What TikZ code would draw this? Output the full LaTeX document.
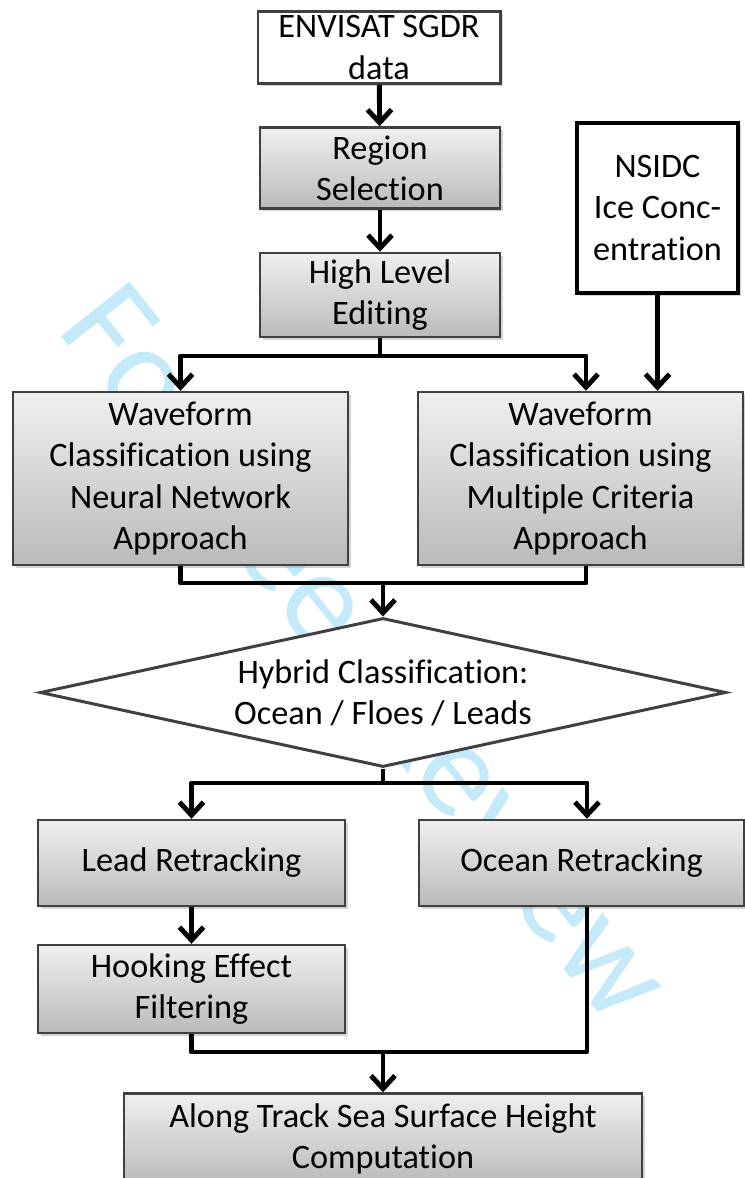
\documentclass[tikz,border=0pt]{standalone}
\usepackage{fontspec}
\setmainfont{Carlito}[Ligatures=CommonOff]
\usetikzlibrary{shapes.geometric,shadows,arrows.meta}
\definecolor{boxline}{RGB}{64,64,64}
\definecolor{wmark}{RGB}{196,234,250}
\begin{document}
\begin{tikzpicture}
			\tikzstyle{every node}=[align=center, font=\fontsize{19.5}{23.5}\selectfont, inner sep=0pt]
			\tikzstyle{graybox}=[draw=boxline, line width=1.4pt, top color=black!6, bottom color=black!27,
			      drop shadow={shadow xshift=0.05cm, shadow yshift=-0.05cm, opacity=0.35}]
			\tikzstyle{whitebox}=[draw=boxline, line width=1.7pt, fill=white,
			      drop shadow={shadow xshift=0.05cm, shadow yshift=-0.05cm, opacity=0.35}]
			\tikzstyle{conn}=[line width=2.8pt, line join=round]
			\tikzstyle{arr}=[conn, -{Straight Barb[length=2.6mm,width=4.8mm]}]
			\useasboundingbox (0,0) rectangle (14.88,-23.56);
			\node[rotate=-51.5, text=wmark, font=\fontsize{78}{78}\selectfont] (wm) at (7.4,-13.0) {For Peer Review};
			\path (7.58,-0.95) node[whitebox, minimum width=4.84cm, minimum height=1.44cm] (envisat) {ENVISAT SGDR\\data}
			      (7.60,-3.36) node[graybox, minimum width=4.80cm, minimum height=1.62cm] (region) {Region\\Selection}
			      (7.60,-5.90) node[graybox, minimum width=4.80cm, minimum height=1.68cm] (hle) {High Level\\Editing}
			      (13.15,-4.16) node[draw=black, line width=2.8pt, fill=white, minimum width=3.22cm, minimum height=3.40cm,
			            drop shadow={shadow xshift=0.05cm, shadow yshift=-0.05cm, opacity=0.35}] (nsidc) {NSIDC\\Ice Conc-\\entration}
			      (3.61,-9.57) node[graybox, minimum width=6.70cm, minimum height=3.46cm] (nn) {Waveform\\Classification using\\Neural Network\\Approach}
			      (11.61,-9.57) node[graybox, minimum width=6.50cm, minimum height=3.46cm] (mc) {Waveform\\Classification using\\Multiple Criteria\\Approach}
			      (7.66,-13.85) node[draw=boxline, line width=1.7pt, fill=white, shape=diamond, aspect=4.6,
			            minimum width=13.72cm, minimum height=2.98cm] (hybrid) {Hybrid Classification:\\Ocean / Floes / Leads}
			      (3.83,-17.26) node[graybox, minimum width=6.14cm, minimum height=1.72cm] (lead) {Lead Retracking}
			      (11.63,-17.26) node[graybox, minimum width=6.50cm, minimum height=1.72cm] (ocean) {Ocean Retracking}
			      (3.83,-19.78) node[graybox, minimum width=6.14cm, minimum height=1.76cm] (hook) {Hooking Effect\\Filtering}
			      (7.66,-22.77) node[graybox, minimum width=10.36cm, minimum height=1.80cm] (along) {Along Track Sea Surface Height\\Computation};
			\coordinate (j1) at (7.60,-7.12);
			\coordinate (j2) at (7.66,-11.66);
			\coordinate (j3) at (7.66,-15.66);
			\coordinate (j4) at (7.66,-21.04);
			\draw[arr] (envisat) -- (region);
			\draw[arr] (region) -- (hle);
			\draw[conn] (hle.south) -- (j1);
			\draw[arr] (j1) -| (nn.north);
			\draw[arr] (j1) -| ([xshift=1.1mm]mc.north);
			\draw[arr] (nsidc.south) -- (nsidc.south |- mc.north);
			\draw[conn] (nn.south) |- (j2) -| ([xshift=1.1mm]mc.south);
			\draw[arr] (j2) -- (hybrid.north);
			\draw[conn] (hybrid.south) -- (j3);
			\draw[arr] (j3) -| (lead.north);
			\draw[arr] (j3) -| ([xshift=1.1mm]ocean.north);
			\draw[arr] (lead) -- (hook);
			\draw[conn] (hook.south) |- (j4) -| ([xshift=1.1mm]ocean.south);
			\draw[arr] (j4) -- (along.north);
		\end{tikzpicture}
\end{document}
